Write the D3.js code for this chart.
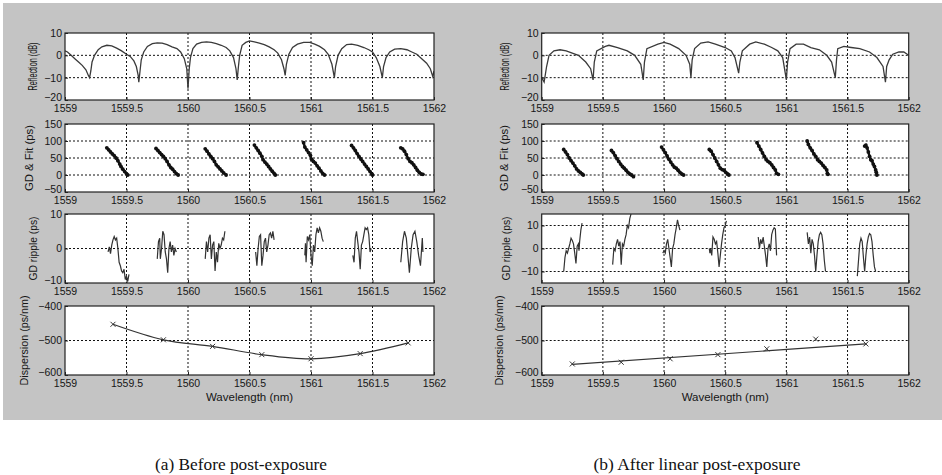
<!DOCTYPE html>
<html><head><meta charset="utf-8">
<script src="https://cdn.jsdelivr.net/npm/d3@7"></script>
<style>
body{margin:0;background:#fff;}
svg{display:block;}
</style></head>
<body>
<svg id="chart" width="942" height="475"></svg>
<script>
// ---------------- DATA ----------------
const xTicks = [1559, 1559.5, 1560, 1560.5, 1561, 1561.5, 1562];
const xTickLabels = ["1559", "1559.5", "1560", "1560.5", "1561", "1561.5", "1562"];

const yLabels = ["Reflection (dB)", "GD & Fit (ps)", "GD ripple (ps)", "Dispersion (ps/nm)"];
const xTitle = "Wavelength (nm)";
const captions = ["(a) Before post-exposure", "(b) After linear post-exposure"];

const reflDomain = [-20, 10], reflTicks = [10, 0, -10, -20];
const gdDomain = [-50, 150], gdTicks = [150, 100, 50, 0, -50];
const rippleDomainA = [-10, 10], rippleTicksA = [10, 0, -10];
const rippleDomainB = [-15, 15], rippleTicksB = [10, 0, -10];
const dispDomain = [-600, -400], dispTicks = [-400, -500, -600];

// Reflection (dB) - panel (a)
const reflA = [
 [1559.00,2],[1559.02,1.5],[1559.05,0],[1559.08,-1.5],[1559.11,-3],[1559.14,-4.5],[1559.17,-6.5],[1559.19,-9],[1559.20,-10],
 [1559.21,-7],[1559.22,-3],[1559.24,0],[1559.27,2.5],[1559.30,3.8],[1559.34,4.5],[1559.38,4.2],[1559.42,3.2],[1559.46,2],[1559.50,0.5],[1559.53,-0.5],[1559.56,-2.5],[1559.58,-5],[1559.595,-9],[1559.60,-12],
 [1559.61,-7],[1559.62,-2],[1559.64,1.5],[1559.67,4],[1559.71,5.2],[1559.75,5.6],[1559.79,5.5],[1559.83,4.8],[1559.87,3.8],[1559.91,3],[1559.94,1.5],[1559.97,-1.5],[1559.99,-6],[1560.00,-15],
 [1560.01,-6],[1560.02,-1],[1560.04,3],[1560.07,5],[1560.11,5.8],[1560.15,6],[1560.19,5.8],[1560.23,5.2],[1560.27,4.5],[1560.31,3.5],[1560.34,2],[1560.37,-1],[1560.39,-6],[1560.40,-11],
 [1560.41,-5],[1560.42,0],[1560.44,4.5],[1560.47,5.8],[1560.50,6.5],[1560.54,6],[1560.58,5.5],[1560.62,4.8],[1560.66,3.8],[1560.70,2.5],[1560.73,1],[1560.76,-2],[1560.78,-6],[1560.79,-9],
 [1560.80,-4],[1560.82,0.5],[1560.85,3.5],[1560.89,5],[1560.94,5.8],[1560.99,5.8],[1561.03,5],[1561.07,4],[1561.11,2.5],[1561.14,0.5],[1561.17,-4],[1561.19,-10],
 [1561.20,-5],[1561.22,0],[1561.25,3],[1561.29,4.8],[1561.33,5],[1561.38,4.5],[1561.43,3.5],[1561.47,2.5],[1561.50,1.5],[1561.53,-1],[1561.56,-5],[1561.58,-10],
 [1561.59,-5],[1561.61,-1],[1561.64,1.5],[1561.68,2.8],[1561.73,3],[1561.78,2.5],[1561.82,1.5],[1561.86,0.5],[1561.90,-1.5],[1561.94,-3.5],[1561.97,-6],[1561.99,-9.5],[1562.00,-7]
];
// Reflection (dB) - panel (b)
const reflB = [
 [1559.00,-10],[1559.02,-12],[1559.04,-5],[1559.06,0],[1559.10,2],[1559.15,2.5],[1559.20,2],[1559.25,1],[1559.30,0],[1559.36,-3],[1559.40,-6],[1559.42,-11],
 [1559.43,-3],[1559.45,2],[1559.52,4],[1559.55,4.5],[1559.62,3.5],[1559.70,2],[1559.76,0],[1559.81,-4],[1559.83,-11],
 [1559.84,-3],[1559.86,3],[1559.95,5],[1560.00,5.8],[1560.05,5],[1560.12,3],[1560.18,0],[1560.21,-4],[1560.22,-10],
 [1560.23,-2],[1560.25,3],[1560.30,5.5],[1560.36,6],[1560.42,5],[1560.50,3.5],[1560.55,2],[1560.58,-1],[1560.61,-8],
 [1560.62,-3],[1560.64,2],[1560.70,5],[1560.75,6],[1560.82,5],[1560.88,3.5],[1560.93,2],[1560.97,-1],[1561.00,-11],
 [1561.01,-3],[1561.03,3],[1561.08,5],[1561.14,5],[1561.20,3.5],[1561.27,2.5],[1561.33,0],[1561.37,-3],[1561.40,-10],
 [1561.41,-2],[1561.42,3],[1561.47,4],[1561.53,3.5],[1561.60,3],[1561.68,1.5],[1561.74,-1],[1561.79,-5],[1561.81,-12],
 [1561.82,-5],[1561.84,-2],[1561.87,0.5],[1561.92,1.5],[1561.96,1.5],[1562.00,0]
];

// Group delay & fit (ps) - segments
const gdA = [
 [[1559.34,80],[1559.355,74],[1559.37,68],[1559.385,62],[1559.40,57],[1559.415,50],[1559.43,42],[1559.445,32],[1559.455,25],[1559.47,17],[1559.485,10],[1559.50,4],[1559.51,0]],
 [[1559.74,78],[1559.755,72],[1559.77,66],[1559.785,60],[1559.80,55],[1559.815,48],[1559.83,40],[1559.845,30],[1559.86,22],[1559.875,17],[1559.89,10],[1559.905,4],[1559.92,0]],
 [[1560.14,77],[1560.155,70],[1560.17,62],[1560.185,55],[1560.20,48],[1560.215,40],[1560.23,30],[1560.245,24],[1560.26,18],[1560.275,12],[1560.29,6],[1560.31,0]],
 [[1560.54,88],[1560.555,80],[1560.57,72],[1560.585,64],[1560.60,55],[1560.61,45],[1560.625,38],[1560.64,32],[1560.655,25],[1560.67,18],[1560.685,11],[1560.70,5],[1560.71,0]],
 [[1560.94,95],[1560.95,82],[1560.965,74],[1560.98,66],[1560.995,58],[1561.005,46],[1561.02,40],[1561.035,35],[1561.05,27],[1561.065,20],[1561.08,12],[1561.095,5],[1561.11,0]],
 [[1561.33,87],[1561.345,80],[1561.36,72],[1561.375,63],[1561.39,55],[1561.405,47],[1561.42,40],[1561.435,32],[1561.45,25],[1561.465,18],[1561.48,10],[1561.495,3],[1561.50,0]],
 [[1561.73,80],[1561.745,77],[1561.76,70],[1561.775,60],[1561.79,48],[1561.805,40],[1561.82,36],[1561.835,30],[1561.85,22],[1561.865,14],[1561.88,8],[1561.895,3],[1561.91,2]]
];
const gdB = [
 [[1559.18,75],[1559.195,68],[1559.21,60],[1559.225,50],[1559.24,42],[1559.255,35],[1559.27,27],[1559.285,18],[1559.30,12],[1559.315,8],[1559.33,3],[1559.34,0]],
 [[1559.57,72],[1559.585,66],[1559.60,57],[1559.615,48],[1559.63,40],[1559.645,32],[1559.66,25],[1559.675,20],[1559.69,14],[1559.705,8],[1559.72,3],[1559.735,0],[1559.75,-5]],
 [[1559.98,82],[1559.995,74],[1560.01,66],[1560.025,56],[1560.04,46],[1560.055,38],[1560.07,30],[1560.085,23],[1560.10,20],[1560.115,14],[1560.13,8],[1560.145,3],[1560.16,0]],
 [[1560.37,75],[1560.385,70],[1560.40,60],[1560.415,50],[1560.43,40],[1560.445,30],[1560.46,20],[1560.475,16],[1560.49,14],[1560.505,8],[1560.52,3],[1560.53,0]],
 [[1560.76,95],[1560.775,85],[1560.79,75],[1560.805,65],[1560.82,55],[1560.835,45],[1560.85,40],[1560.865,36],[1560.88,30],[1560.895,22],[1560.91,15],[1560.92,5],[1560.935,2]],
 [[1561.17,100],[1561.18,90],[1561.195,80],[1561.21,72],[1561.225,62],[1561.24,55],[1561.255,45],[1561.27,40],[1561.285,35],[1561.30,28],[1561.315,22],[1561.33,15],[1561.335,5],[1561.34,2]],
 [[1561.64,85],[1561.65,88],[1561.66,80],[1561.67,68],[1561.68,55],[1561.69,45],[1561.70,42],[1561.71,32],[1561.72,25],[1561.73,15],[1561.735,8],[1561.74,0]]
];

// GD ripple (ps) - segments
const rippleA = [
 [[1559.35,-1],[1559.36,0.5],[1559.37,-1.5],[1559.38,1],[1559.39,2.5],[1559.40,3.5],[1559.41,2.5],[1559.42,3],[1559.43,0],[1559.44,-4],[1559.45,-5],[1559.46,-6.5],[1559.47,-7],[1559.48,-6],[1559.49,-9],[1559.50,-8],[1559.51,-9.5],[1559.52,-7.5]],
 [[1559.75,-3],[1559.76,2],[1559.77,3],[1559.775,-3],[1559.785,0],[1559.795,5],[1559.805,4],[1559.815,-1],[1559.825,-3],[1559.835,-7],[1559.845,0],[1559.855,2],[1559.865,-1],[1559.875,1],[1559.885,-2],[1559.895,0],[1559.905,-1]],
 [[1560.14,-3],[1560.15,2],[1560.16,-1],[1560.17,3],[1560.18,4],[1560.19,-3],[1560.20,1],[1560.21,2],[1560.22,-6.5],[1560.23,-1],[1560.24,-4],[1560.25,1.5],[1560.26,0],[1560.27,1],[1560.28,3],[1560.29,2.5],[1560.30,5]],
 [[1560.55,-1],[1560.56,-5],[1560.57,0],[1560.58,3.5],[1560.59,4],[1560.60,-5],[1560.61,-2],[1560.62,2],[1560.63,3],[1560.64,-1],[1560.65,1],[1560.66,4],[1560.67,4.5],[1560.68,3],[1560.69,5],[1560.70,2.5]],
 [[1560.95,-2],[1560.955,1.5],[1560.96,-4],[1560.97,3.5],[1560.98,2.5],[1560.99,4],[1561.00,-2],[1561.01,-5],[1561.02,1],[1561.03,-1],[1561.04,4],[1561.05,6],[1561.06,4.5],[1561.07,6],[1561.08,5],[1561.09,3],[1561.10,2]],
 [[1561.34,-2],[1561.35,-4],[1561.36,3],[1561.37,5],[1561.38,2],[1561.39,-1],[1561.40,-6],[1561.41,1],[1561.42,2],[1561.43,4],[1561.44,6],[1561.45,5.5],[1561.46,6],[1561.47,4],[1561.48,-1],[1561.49,0]],
 [[1561.73,-4],[1561.745,2],[1561.76,5],[1561.775,3],[1561.79,-3],[1561.80,-7],[1561.815,0],[1561.83,4],[1561.845,5],[1561.86,2],[1561.875,-2],[1561.89,-5],[1561.905,3],[1561.91,-1]]
];
const rippleB = [
 [[1559.18,-10],[1559.19,-4],[1559.20,-1],[1559.21,-2],[1559.22,0],[1559.23,2],[1559.24,4.5],[1559.25,3.5],[1559.26,2],[1559.27,-2],[1559.28,-6.5],[1559.29,1],[1559.30,2],[1559.305,-1],[1559.31,3],[1559.32,8],[1559.33,11]],
 [[1559.58,-7],[1559.59,0],[1559.60,-1],[1559.61,2],[1559.62,4],[1559.63,1],[1559.64,3],[1559.65,-7],[1559.66,2],[1559.67,1],[1559.68,4],[1559.69,6],[1559.70,10],[1559.71,9],[1559.72,13],[1559.73,15]],
 [[1559.99,-2],[1560.00,-1],[1560.01,-2],[1560.02,2],[1560.03,4],[1560.04,0],[1560.05,-4],[1560.06,-8],[1560.07,0],[1560.08,2],[1560.09,6],[1560.10,9],[1560.11,12.5],[1560.12,10],[1560.13,8]],
 [[1560.37,0],[1560.375,-2],[1560.38,0],[1560.39,-3],[1560.40,5],[1560.41,4],[1560.42,2],[1560.43,3],[1560.44,-2],[1560.45,-8],[1560.46,-3],[1560.47,2],[1560.48,6],[1560.49,9],[1560.50,10],[1560.51,12]],
 [[1560.77,5],[1560.78,0],[1560.79,4],[1560.80,2],[1560.81,5],[1560.82,1],[1560.83,-3],[1560.84,-8],[1560.85,0],[1560.86,2],[1560.87,-1],[1560.88,6],[1560.89,8],[1560.90,9],[1560.91,8.5],[1560.92,-3]],
 [[1561.17,7],[1561.18,2],[1561.19,5],[1561.20,-2],[1561.21,4],[1561.22,2],[1561.23,-3],[1561.24,-10],[1561.25,-3],[1561.26,3],[1561.27,6],[1561.28,7],[1561.29,6],[1561.30,2],[1561.31,-5],[1561.32,-10]],
 [[1561.58,-12],[1561.59,-5],[1561.60,2],[1561.61,4.5],[1561.62,3],[1561.63,-4],[1561.64,-10],[1561.65,-3],[1561.66,2],[1561.67,5],[1561.68,6.5],[1561.69,6],[1561.70,3],[1561.71,-3],[1561.72,-8],[1561.73,-10]]
];

// Dispersion (ps/nm)
const dispA = [[1559.39,-453],[1559.80,-498],[1560.20,-517],[1560.60,-541],[1561.00,-553],[1561.40,-538],[1561.79,-507]];
const dispB = [[1559.25,-568],[1559.65,-563],[1560.05,-553],[1560.44,-541],[1560.84,-524],[1561.24,-496],[1561.65,-510]];
const dispFitB = [[1559.25,-569],[1561.65,-510]];

// ---------------- DRAW ----------------
const SANS = '"Liberation Sans", Arial, sans-serif';
const SERIF = '"Liberation Serif", "Times New Roman", serif';
const svg = d3.select("#chart");
svg.append("rect").attr("x", 3).attr("y", 3).attr("width", 939).attr("height", 417).attr("fill", "#c4c4c4");

const rows = [[33, 100], [124, 192], [214, 283], [306, 375]];
const labelLen = [48, 66, 64, 90];
const labelSize = [12.5, 11, 11, 11];

function styleText(sel, size) {
  sel.style("font-family", SANS).style("font-size", size + "px").attr("fill", "#161616");
}

function drawPanel(idx, x0, x1, series) {
  const xs = d3.scaleLinear().domain([1559, 1562]).range([x0, x1]);
  const cfgs = [
    {dom: reflDomain, ticks: reflTicks},
    {dom: gdDomain, ticks: gdTicks},
    {dom: series.rippleDom, ticks: series.rippleTicks},
    {dom: dispDomain, ticks: dispTicks}
  ];
  cfgs.forEach((c, i) => {
    const [top, bot] = rows[i];
    const ys = d3.scaleLinear().domain(c.dom).range([bot, top]);
    const g = svg.append("g");
    const cid = "clip" + idx + "_" + i;
    g.append("clipPath").attr("id", cid).append("rect")
      .attr("x", x0).attr("y", top).attr("width", x1 - x0).attr("height", bot - top);
    g.append("rect").attr("x", x0).attr("y", top).attr("width", x1 - x0).attr("height", bot - top)
      .attr("fill", "#fff");
    // grid
    xTicks.slice(1, -1).forEach(t => {
      g.append("line").attr("x1", xs(t)).attr("x2", xs(t)).attr("y1", top).attr("y2", bot)
        .attr("stroke", "#111").attr("stroke-width", 1).attr("stroke-dasharray", "2,2");
    });
    c.ticks.filter(t => t > c.dom[0] && t < c.dom[1]).forEach(t => {
      g.append("line").attr("x1", x0).attr("x2", x1).attr("y1", ys(t)).attr("y2", ys(t))
        .attr("stroke", "#111").attr("stroke-width", 1).attr("stroke-dasharray", "2,2");
    });
    // axes via d3
    const xa = d3.axisBottom(xs).tickValues(xTicks).tickFormat((d, k) => xTickLabels[k]).tickSizeInner(-3).tickSizeOuter(0).tickPadding(5);
    const xg = g.append("g").attr("transform", `translate(0,${bot})`).call(xa);
    xg.select(".domain").remove();
    xg.selectAll("line").attr("stroke", "#222");
    styleText(xg.selectAll("text"), 10.5);
    const ya = d3.axisLeft(ys).tickValues(c.ticks).tickFormat(d3.format("d")).tickSizeInner(-3).tickSizeOuter(0).tickPadding(3);
    const yg = g.append("g").attr("transform", `translate(${x0},0)`).call(ya);
    yg.select(".domain").remove();
    yg.selectAll("line").attr("stroke", "#222");
    styleText(yg.selectAll("text"), 10.5);
    yg.selectAll(".tick").filter(d => d === c.dom[0]).select("text").attr("dy", "0.05em");
    // data
    const line = d3.line().x(d => xs(d[0])).y(d => ys(d[1]));
    const dg = g.append("g").attr("clip-path", `url(#${cid})`);
    if (i === 0) {
      dg.append("path").attr("d", line(series.refl)).attr("fill", "none").attr("stroke", "#3a3a3a").attr("stroke-width", 1.3);
    } else if (i === 1) {
      series.gd.forEach(seg => {
        dg.append("path").attr("d", line(seg)).attr("fill", "none").attr("stroke", "#111").attr("stroke-width", 2.4);
        seg.forEach(p => dg.append("circle").attr("cx", xs(p[0])).attr("cy", ys(p[1])).attr("r", 1.9).attr("fill", "#111"));
      });
    } else if (i === 2) {
      series.ripple.forEach(seg => {
        dg.append("path").attr("d", line(seg)).attr("fill", "none").attr("stroke", "#333").attr("stroke-width", 1.2);
      });
    } else {
      if (series.fit) {
        dg.append("path").attr("d", line(series.fit)).attr("fill", "none").attr("stroke", "#333").attr("stroke-width", 1.2);
      } else {
        dg.append("path").attr("d", line.curve(d3.curveCatmullRom)(series.disp)).attr("fill", "none").attr("stroke", "#333").attr("stroke-width", 1.2);
      }
      series.disp.forEach(p => {
        const cx = xs(p[0]), cy = ys(p[1]);
        dg.append("path").attr("d", `M${cx-2.5},${cy-2.5}L${cx+2.5},${cy+2.5}M${cx-2.5},${cy+2.5}L${cx+2.5},${cy-2.5}`)
          .attr("stroke", "#333").attr("stroke-width", 1);
      });
    }
    // frame
    g.append("rect").attr("x", x0).attr("y", top).attr("width", x1 - x0).attr("height", bot - top)
      .attr("fill", "none").attr("stroke", "#222").attr("stroke-width", 1.2);
    // y label
    const lx = x0 - series.labelOff[i];
    const ly = (top + bot) / 2;
    const t = svg.append("text").attr("transform", `translate(${lx},${ly}) rotate(-90)`)
      .attr("text-anchor", "middle")
      .attr("textLength", labelLen[i]).attr("lengthAdjust", "spacingAndGlyphs")
      .text(yLabels[i]);
    styleText(t, labelSize[i]);
  });
  const xt = svg.append("text").attr("x", (x0 + x1) / 2).attr("y", 401).attr("text-anchor", "middle").text(xTitle);
  styleText(xt, 11.5);
}

drawPanel(0, 65, 434, {refl: reflA, gd: gdA, ripple: rippleA, rippleDom: rippleDomainA, rippleTicks: rippleTicksA, disp: dispA, labelOff: [28, 32, 28, 37]});
drawPanel(1, 541.7, 908.7, {refl: reflB, gd: gdB, ripple: rippleB, rippleDom: rippleDomainB, rippleTicks: rippleTicksB, disp: dispB, fit: dispFitB, labelOff: [33, 34, 32, 39]});

[[241, 172], [697, 207]].forEach((p, k) => {
  svg.append("text").attr("x", p[0]).attr("y", 470).attr("text-anchor", "middle")
    .style("font-family", SERIF).style("font-size", "16px").attr("fill", "#111")
    .attr("textLength", p[1]).attr("lengthAdjust", "spacingAndGlyphs").text(captions[k]);
});
</script>
</body></html>
